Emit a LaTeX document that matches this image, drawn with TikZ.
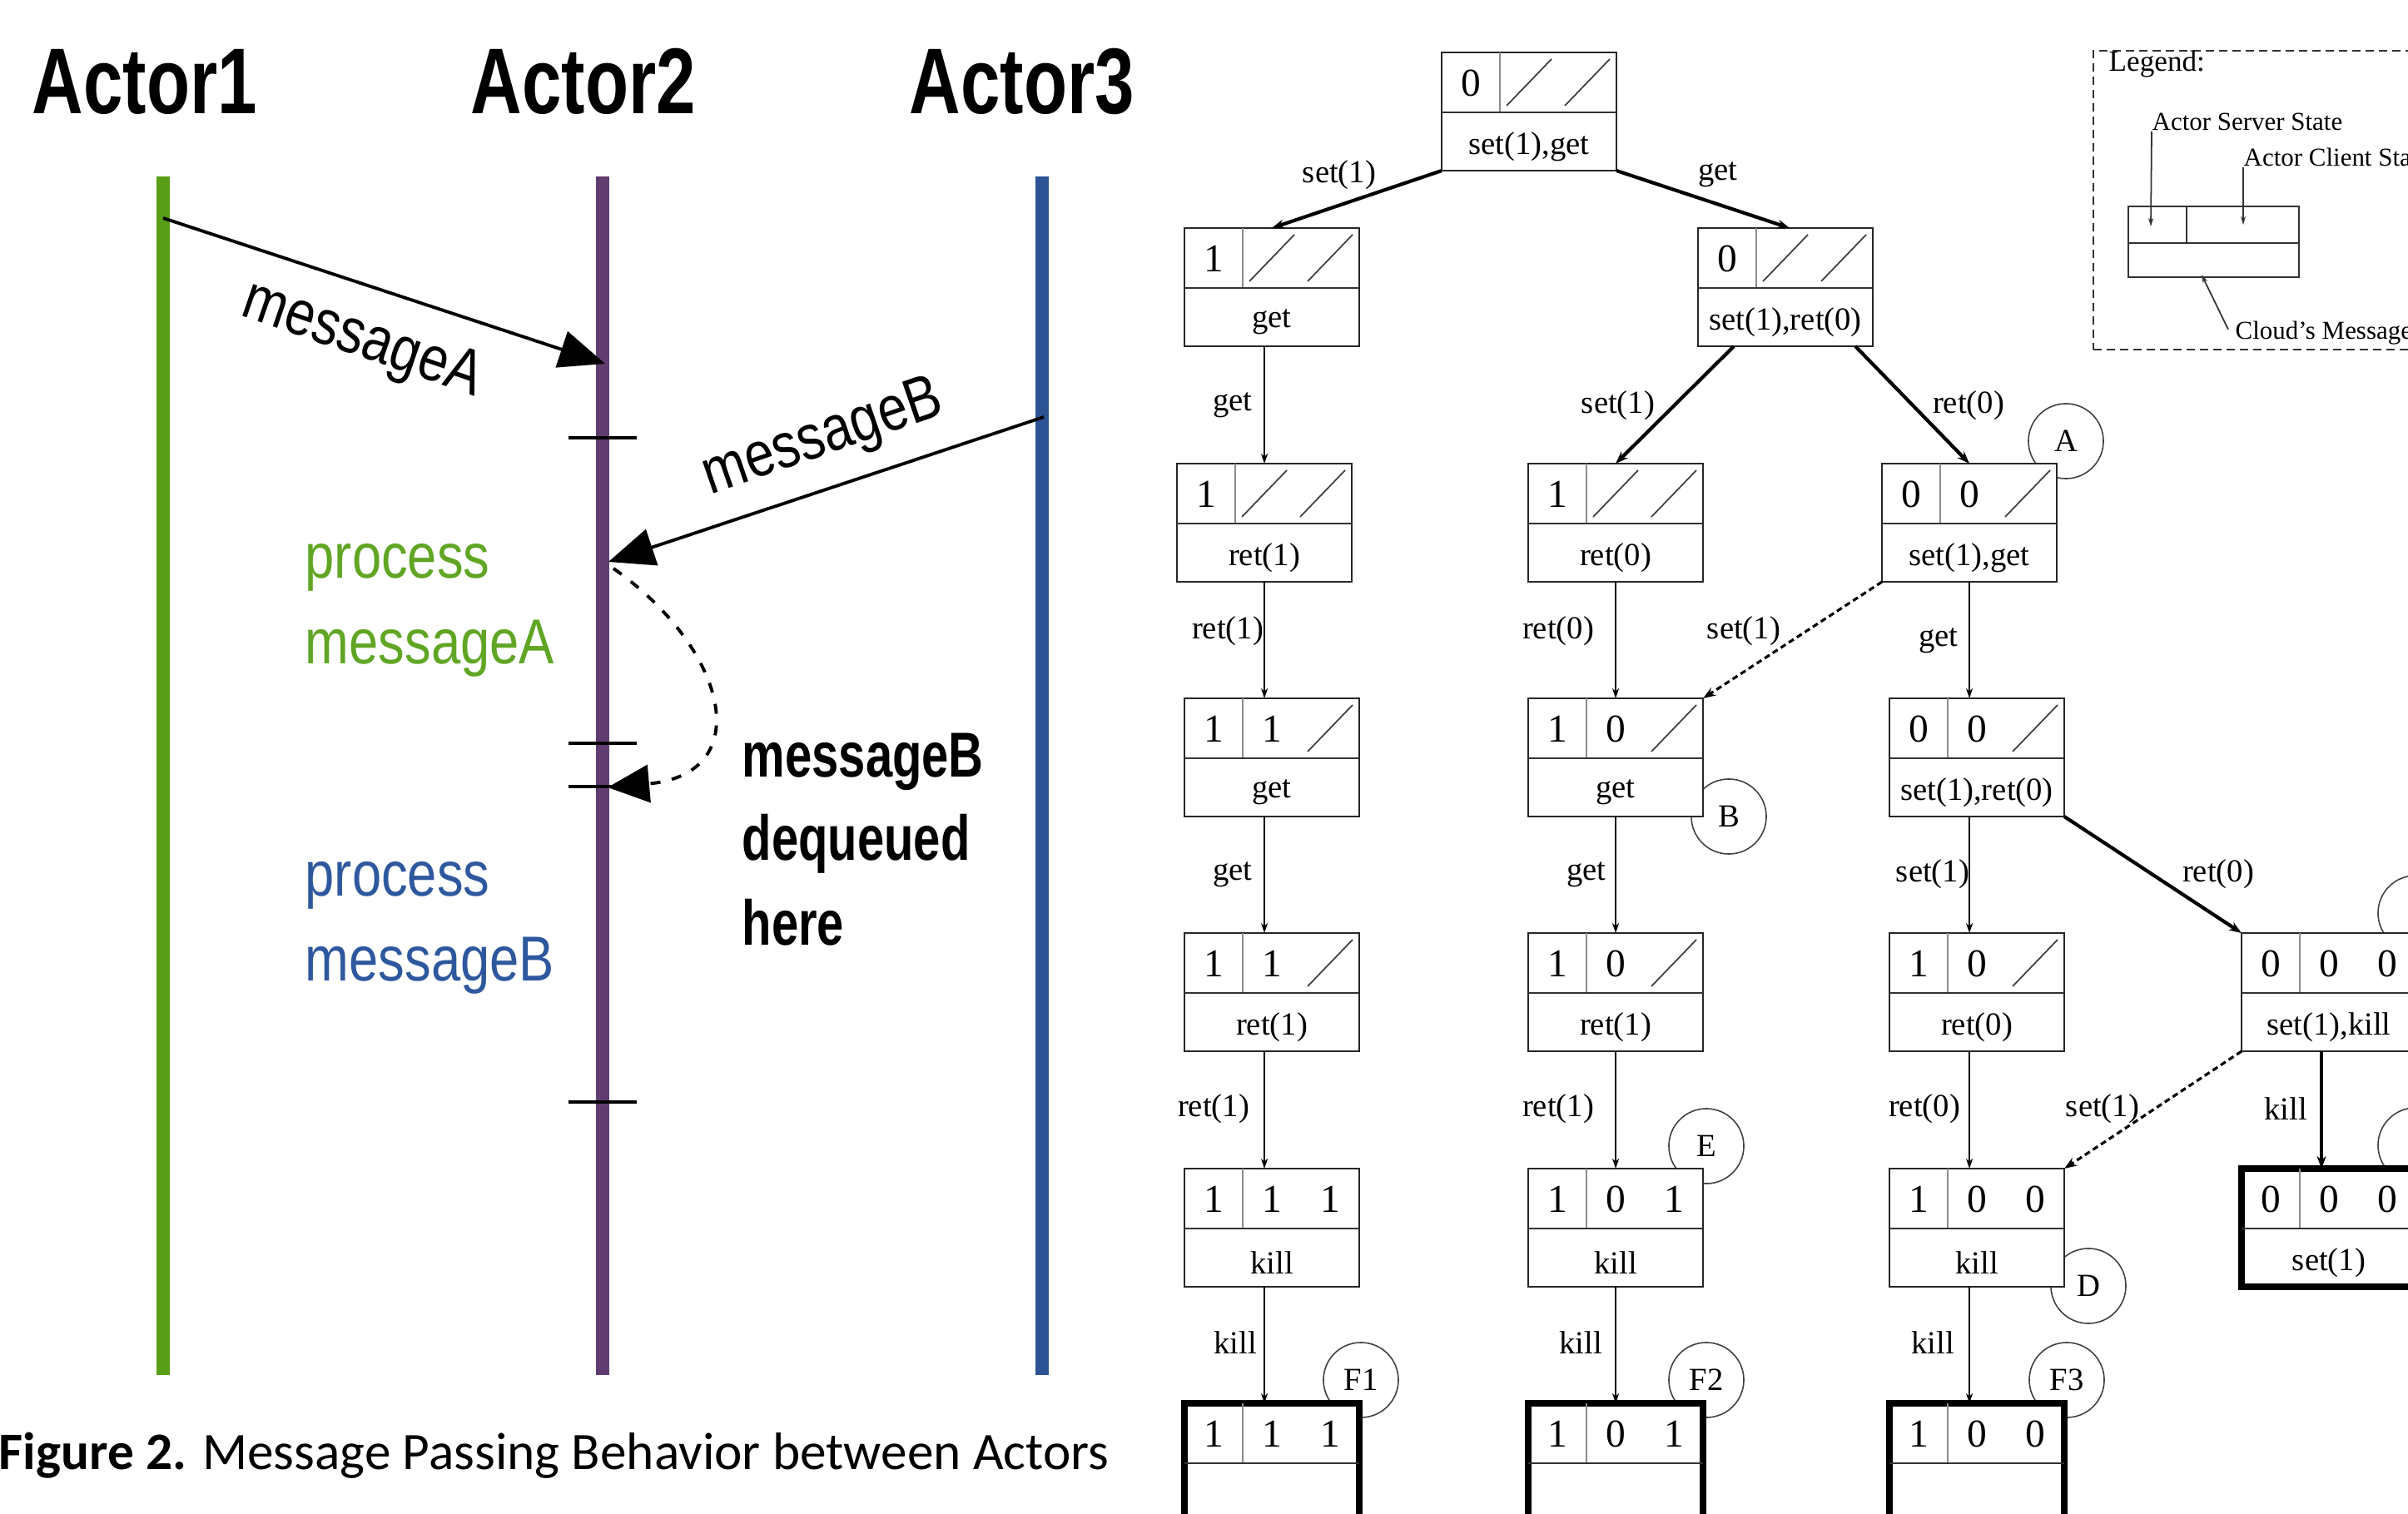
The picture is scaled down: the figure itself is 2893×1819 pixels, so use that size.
\documentclass[tikz,border=0pt]{standalone}
\usepackage{fontspec}
\setmainfont{Liberation Serif}
\newfontfamily\narrowsans[FakeStretch=0.83]{Liberation Sans}
\newfontfamily\narrowbold[FakeStretch=0.76]{Liberation Sans Bold}
\newfontfamily\capfont{Carlito}
\usetikzlibrary{arrows.meta}
\definecolor{actgreen}{RGB}{88,158,22}
\definecolor{actpurple}{RGB}{96,60,112}
\definecolor{actblue}{RGB}{44,84,148}
\definecolor{txtgreen}{RGB}{96,166,36}
\definecolor{txtblue}{RGB}{46,88,158}

\newcommand\tbox[5]{%
  \node[tbx,#4,anchor=north west] (#1) at (#2,#3) {};
  \draw[divl] ([shift={(70,0)}]#1.north west) -- ([shift={(70,72)}]#1.north west);
  \draw[midl] ([shift={(0,72)}]#1.north west) -- ([shift={(210,72)}]#1.north west);
  \node[btxt] (#1t) at ([shift={(105,113)}]#1.north west) {#5};}
\newcommand\dg[3]{\node[dtxt] (#1d#2) at ([shift={(#2,37)}]#1.north west) {#3};}
\newcommand\sla[2]{\draw[slash] ([shift={(#2-27,64)}]#1.north west) -- ([shift={(#2+27,8)}]#1.north west);}

\begin{document}
\begin{tikzpicture}[x=0.01cm,y=-0.01cm,
  tbx/.style={draw=black!85,line width=0.7pt,fill=white,minimum width=2.1cm,minimum height=1.42cm,inner sep=0pt,outer sep=0pt},
  boldbox/.style={line width=2.2pt,draw=black},
  divl/.style={draw=black!45,line width=0.6pt},
  midl/.style={draw=black!80,line width=0.8pt},
  slash/.style={draw=black!75,line width=0.5pt},
  btxt/.style={font=\fontsize{11}{13}\selectfont,inner sep=0pt},
  dtxt/.style={font=\fontsize{13.5}{16}\selectfont,inner sep=0pt},
  elbl/.style={font=\fontsize{11}{13}\selectfont,inner sep=0pt},
  circ/.style={circle,draw=black!75,line width=0.45pt,minimum size=0.9cm,inner sep=0pt,font=\fontsize{11}{13}\selectfont},
  thk/.style={line width=1.2pt,-{Stealth[length=0.15cm,width=0.11cm]}},
  thn/.style={line width=0.6pt,-{Stealth[length=0.12cm,width=0.08cm]}},
  dsh/.style={line width=0.9pt,dash pattern=on 0.07cm off 0.045cm,-{Stealth[length=0.15cm,width=0.11cm]}},
  life/.style={line width=4.8pt},
  msg/.style={line width=1.1pt,-{Triangle[length=0.55cm,width=0.45cm]}},
  dmsg/.style={line width=1.1pt,dash pattern=on 0.12cm off 0.14cm,-{Triangle[length=0.5cm,width=0.45cm]}},
  tickl/.style={line width=1.4pt},
  actorlbl/.style={font=\narrowbold\fontsize{31.9}{38}\selectfont,inner sep=0pt},
  msglbl/.style={font=\narrowsans\fontsize{21.7}{26}\selectfont,inner sep=0pt},
  noteb/.style={font=\narrowbold\fontsize{21.7}{26}\selectfont,inner sep=0pt},
  legframe/.style={draw=black!80,line width=0.6pt,dash pattern=on 0.1cm off 0.06cm,minimum width=4.05cm,minimum height=3.59cm,inner sep=0pt,outer sep=0pt},
  legbox/.style={draw=black!80,line width=0.7pt,minimum width=2.05cm,minimum height=0.85cm,inner sep=0pt,outer sep=0pt},
  legbig/.style={font=\fontsize{10}{12}\selectfont,inner sep=0pt},
  legsm/.style={font=\fontsize{8.8}{10.5}\selectfont,inner sep=0pt},
  legarr/.style={line width=0.5pt,draw=black!80,-{Stealth[length=0.1cm,width=0.06cm]}}
]
\useasboundingbox (0,0) rectangle (2893,1819);
\clip (0,0) rectangle (2893,1819);
\fill[white] (0,0) rectangle (2893,1819);

%% ---------------- left: message passing ----------------
\node[actorlbl,anchor=base] (a1) at (174,137) {Actor1};
\node[actorlbl,anchor=base] (a2) at (701,137) {Actor2};
\node[actorlbl,anchor=base] (a3) at (1228,137) {Actor3};

\coordinate (gA) at (196,212); \coordinate (gB) at (196,1652);
\coordinate (pA) at (724,212); \coordinate (pB) at (724,1652);
\coordinate (bA) at (1252,212); \coordinate (bB) at (1252,1652);
\draw[life,actgreen] (gA) -- (gB);
\draw[life,actpurple] (pA) -- (pB);
\draw[life,actblue] (bA) -- (bB);

\draw[tickl] (683,526) -- (765,526);
\draw[tickl] (683,893) -- (765,893);
\draw[tickl] (683,945) -- (765,945);
\draw[tickl] (683,1324) -- (765,1324);

\coordinate (mAs) at (196,262); \coordinate (mAe) at (727,437);
\draw[msg] (mAs) -- (mAe);
\coordinate (mBs) at (1254,501); \coordinate (mBe) at (731,675);
\draw[msg] (mBs) -- (mBe);
\coordinate (dS) at (737,683); \coordinate (dE) at (730,946);
\draw[dmsg] (dS) .. controls (875,780) and (910,930) .. (dE);

\node[msglbl,rotate=-19] (lA) at (435,410) {messageA};
\node[msglbl,rotate=19] (lB) at (989,528) {messageB};
\node[msglbl,text=txtgreen,anchor=base west] (pa1) at (366,695) {process};
\node[msglbl,text=txtgreen,anchor=base west] (pa2) at (366,798) {messageA};
\node[msglbl,text=txtblue,anchor=base west] (pb1) at (366,1076) {process};
\node[msglbl,text=txtblue,anchor=base west] (pb2) at (366,1178) {messageB};
\node[noteb,anchor=base west] (n1) at (891,933) {messageB};
\node[noteb,anchor=base west] (n2) at (891,1034) {dequeued};
\node[noteb,anchor=base west] (n3) at (891,1135) {here};

\node[anchor=base west,font=\capfont\fontsize{18}{22}\selectfont,inner sep=0pt] (cap) at (-2,1765) {\textbf{Figure 2.} Message Passing Behavior between Actors};

%% ---------------- right: state tree ----------------
\node[circ] (cA) at (2482,530) {A};
\node[circ] (cB) at (2077,981) {B};
\node[circ] (cC) at (2902,1097) {};
\node[circ] (cD) at (2509,1545) {D};
\node[circ] (cE) at (2050,1377) {E};
\node[circ] (cG) at (2902,1376) {};
\node[circ] (cF1) at (1635,1658) {F1};
\node[circ] (cF2) at (2050,1658) {F2};
\node[circ] (cF3) at (2483,1658) {F3};

\tbox{r}{1732}{63}{}{set(1),get} \dg{r}{35}{0} \sla{r}{105} \sla{r}{175}
\tbox{La}{1423}{274}{}{get} \dg{La}{35}{1} \sla{La}{105} \sla{La}{175}
\tbox{Lb}{2040}{274}{}{set(1),ret(0)} \dg{Lb}{35}{0} \sla{Lb}{105} \sla{Lb}{175}
\tbox{Ma}{1414}{557}{}{ret(1)} \dg{Ma}{35}{1} \sla{Ma}{105} \sla{Ma}{175}
\tbox{Mb}{1836}{557}{}{ret(0)} \dg{Mb}{35}{1} \sla{Mb}{105} \sla{Mb}{175}
\tbox{Mc}{2261}{557}{}{set(1),get} \dg{Mc}{35}{0} \dg{Mc}{105}{0} \sla{Mc}{175}
\tbox{Na}{1423}{839}{}{get} \dg{Na}{35}{1} \dg{Na}{105}{1} \sla{Na}{175}
\tbox{Nb}{1836}{839}{}{get} \dg{Nb}{35}{1} \dg{Nb}{105}{0} \sla{Nb}{175}
\tbox{Nc}{2270}{839}{}{set(1),ret(0)} \dg{Nc}{35}{0} \dg{Nc}{105}{0} \sla{Nc}{175}
\tbox{Pa}{1423}{1121}{}{ret(1)} \dg{Pa}{35}{1} \dg{Pa}{105}{1} \sla{Pa}{175}
\tbox{Pb}{1836}{1121}{}{ret(1)} \dg{Pb}{35}{1} \dg{Pb}{105}{0} \sla{Pb}{175}
\tbox{Pc}{2270}{1121}{}{ret(0)} \dg{Pc}{35}{1} \dg{Pc}{105}{0} \sla{Pc}{175}
\tbox{Pd}{2693}{1121}{}{set(1),kill} \dg{Pd}{35}{0} \dg{Pd}{105}{0} \dg{Pd}{175}{0}
\tbox{Qa}{1423}{1404}{}{kill} \dg{Qa}{35}{1} \dg{Qa}{105}{1} \dg{Qa}{175}{1}
\tbox{Qb}{1836}{1404}{}{kill} \dg{Qb}{35}{1} \dg{Qb}{105}{0} \dg{Qb}{175}{1}
\tbox{Qc}{2270}{1404}{}{kill} \dg{Qc}{35}{1} \dg{Qc}{105}{0} \dg{Qc}{175}{0}
\tbox{Qd}{2693}{1404}{boldbox}{set(1)} \dg{Qd}{35}{0} \dg{Qd}{105}{0} \dg{Qd}{175}{0}
\tbox{Sa}{1423}{1686}{boldbox}{} \dg{Sa}{35}{1} \dg{Sa}{105}{1} \dg{Sa}{175}{1}
\tbox{Sb}{1836}{1686}{boldbox}{} \dg{Sb}{35}{1} \dg{Sb}{105}{0} \dg{Sb}{175}{1}
\tbox{Sc}{2270}{1686}{boldbox}{} \dg{Sc}{35}{1} \dg{Sc}{105}{0} \dg{Sc}{175}{0}

% edges
\draw[thk] (r.south west) -- (La.north);
\draw[thk] (r.south east) -- ([xshift=0.05cm]Lb.north);
\draw[thn] (Ma.north |- La.south) -- (Ma.north);
\draw[thk] ([xshift=-0.62cm]Lb.south) -- (Mb.north);
\draw[thk] ([xshift=0.84cm]Lb.south) -- (Mc.north);
\draw[thn] (Ma.south) -- (Ma.south |- Na.north);
\draw[thn] (Mb.south) -- (Nb.north);
\draw[dsh] (Mc.south west) -- (Nb.north east);
\draw[thn] (Mc.south) -- (Mc.south |- Nc.north);
\draw[thn] (Ma.south |- Na.south) -- (Ma.south |- Pa.north);
\draw[thn] (Nb.south) -- (Pb.north);
\draw[thn] (Mc.south |- Nc.south) -- (Mc.south |- Pc.north);
\draw[thk] (Nc.south east) -- (Pd.north west);
\draw[thn] (Ma.south |- Pa.south) -- (Ma.south |- Qa.north);
\draw[thn] (Pb.south) -- (Qb.north);
\draw[thn] (Mc.south |- Pc.south) -- (Mc.south |- Qc.north);
\draw[dsh] (Pd.south west) -- (Qc.north east);
\draw[thk] ([xshift=-0.09cm]Pd.south) -- ([xshift=-0.09cm]Qd.north);
\draw[thn] (Ma.south |- Qa.south) -- (Ma.south |- Sa.north);
\draw[thn] (Qb.south) -- (Sb.north);
\draw[thn] (Mc.south |- Qc.south) -- (Mc.south |- Sc.north);

% edge labels
\node[elbl] (e1) at (1609,210) {set(1)};
\node[elbl] (e2) at (2064,210) {get};
\node[elbl] (e3) at (1481,487) {get};
\node[elbl] (e4) at (1944,487) {set(1)};
\node[elbl] (e5) at (2365,487) {ret(0)};
\node[elbl] (e6) at (1475,758) {ret(1)};
\node[elbl] (e7) at (1872,758) {ret(0)};
\node[elbl] (e8) at (2095,758) {set(1)};
\node[elbl] (e9) at (2329,770) {get};
\node[elbl] (e10) at (1481,1051) {get};
\node[elbl] (e11) at (1906,1051) {get};
\node[elbl] (e12) at (2322,1050) {set(1)};
\node[elbl] (e13) at (2665,1050) {ret(0)};
\node[elbl] (e14) at (1458,1332) {ret(1)};
\node[elbl] (e15) at (1872,1332) {ret(1)};
\node[elbl] (e16) at (2312,1332) {ret(0)};
\node[elbl] (e17) at (2526,1332) {set(1)};
\node[elbl] (e18) at (2746,1332) {kill};
\node[elbl] (e19) at (1484,1613) {kill};
\node[elbl] (e20) at (1899,1613) {kill};
\node[elbl] (e21) at (2322,1613) {kill};

%% ---------------- legend ----------------
\node[legframe,anchor=north west] (leg) at (2515,61) {};
\node[legbig,anchor=base west] (lg) at (2533,86) {Legend:};
\node[legsm,anchor=base west] (ls) at (2585,157) {Actor Server State};
\node[legsm,anchor=base west] (lc) at (2695,200) {Actor Client State};
\node[legsm,anchor=base west] (lm) at (2685,408) {Cloud’s Message};
\node[legbox,anchor=north west] (lb) at (2557,248) {};
\draw[legbox] ([shift={(70,0)}]lb.north west) -- ([shift={(70,44)}]lb.north west);
\draw[legbox] ([shift={(0,44)}]lb.north west) -- ([shift={(205,44)}]lb.north west);
\draw[legarr] (ls.south west) -- ([shift={(27,24)}]lb.north west);
\draw[legarr] (lc.south west) -- ([shift={(138,22)}]lb.north west);
\draw[legarr] ([shift={(-8,10)}]lm.north west) -- ([shift={(88,-3)}]lb.south west);
\end{tikzpicture}
\end{document}
